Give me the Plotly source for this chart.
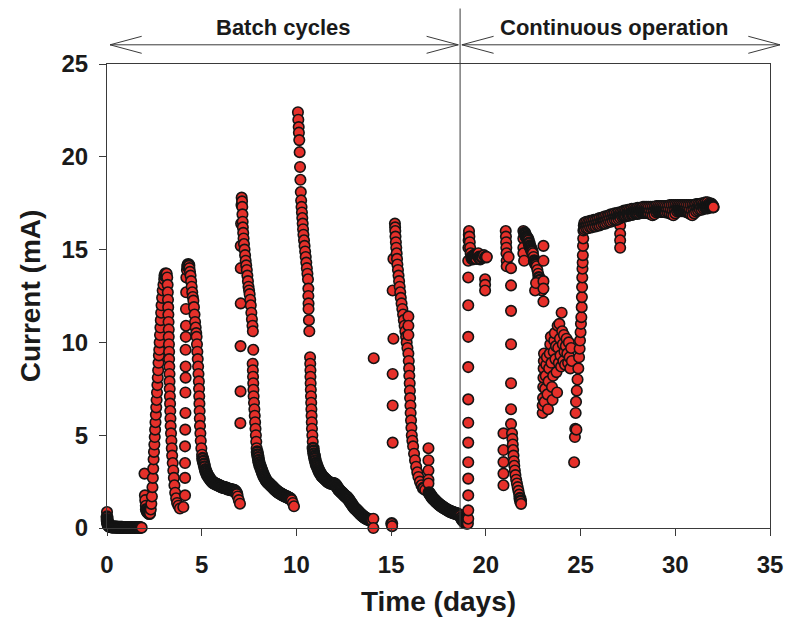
import math
import plotly.graph_objects as go

# ---------------- data: (day, current mA) ----------------
startup = [(0.0, 0.86), (0.0, 0.6), (0.01, 0.45), (0.02, 0.35), (0.03, 0.28), (0.05, 0.2),
           (0.07, 0.15), (0.1, 0.12), (0.13, 0.1), (0.16, 0.08), (0.2, 0.07), (0.25, 0.06),
           (0.3, 0.06), (0.35, 0.05), (0.4, 0.05), (0.45, 0.05), (0.5, 0.05), (0.55, 0.04),
           (0.6, 0.04), (0.65, 0.04), (0.7, 0.04), (0.75, 0.04), (0.8, 0.04), (0.85, 0.03),
           (0.9, 0.03), (0.95, 0.03), (1.0, 0.03), (1.05, 0.03), (1.1, 0.03), (1.15, 0.03),
           (1.2, 0.03), (1.25, 0.03), (1.3, 0.03), (1.35, 0.03), (1.4, 0.03), (1.45, 0.03),
           (1.5, 0.03), (1.55, 0.03), (1.6, 0.03), (1.65, 0.03), (1.7, 0.03), (1.75, 0.03),
           (1.83, 0.02)]

batch1 = [(1.98, 2.93), (2.0, 1.76), (2.02, 1.5), (2.05, 1.2), (2.08, 1.0), (2.12, 0.9),
          (2.16, 0.85), (2.2, 0.8), (2.24, 0.78), (2.27, 0.79), (2.31, 1.0), (2.34, 1.3),
          (2.37, 1.7), (2.4, 2.2), (2.42, 2.7), (2.44, 3.2), (2.46, 3.7), (2.48, 4.1),
          (2.5, 4.5), (2.52, 4.9), (2.54, 5.3), (2.56, 5.7), (2.58, 6.1), (2.6, 6.5),
          (2.62, 6.9), (2.64, 7.3), (2.66, 7.7), (2.68, 8.1), (2.7, 8.5), (2.72, 8.9),
          (2.74, 9.3), (2.76, 9.6), (2.78, 10.0), (2.8, 10.4), (2.82, 10.8), (2.84, 11.2),
          (2.86, 11.6), (2.88, 12.0), (2.91, 12.4), (2.94, 12.8), (2.98, 13.1), (3.02, 13.4),
          (3.06, 13.6), (3.1, 13.7), (3.15, 13.7), (3.18, 13.5), (3.2, 13.1), (3.21, 12.7),
          (3.22, 12.3), (3.23, 11.9), (3.24, 11.5), (3.25, 11.1), (3.26, 10.7), (3.26, 10.3),
          (3.27, 9.9), (3.28, 9.5), (3.28, 9.1), (3.29, 8.7), (3.3, 8.3), (3.3, 7.9),
          (3.31, 7.5), (3.32, 7.1), (3.33, 6.7), (3.34, 6.3), (3.35, 5.9), (3.36, 5.5),
          (3.38, 5.1), (3.4, 4.7), (3.42, 4.3), (3.44, 3.9), (3.47, 3.5), (3.5, 3.1),
          (3.53, 2.7), (3.56, 2.3), (3.6, 1.9), (3.65, 1.6), (3.7, 1.35), (3.77, 1.2),
          (3.85, 1.05)]

batch2 = [(4.03, 1.13), (4.12, 1.76), (4.12, 2.7), (4.12, 3.5), (4.12, 4.4), (4.13, 5.3),
          (4.14, 6.2), (4.14, 7.3), (4.15, 8.1), (4.15, 8.7), (4.15, 9.6), (4.16, 10.3),
          (4.17, 10.9), (4.17, 11.8), (4.18, 12.7), (4.19, 13.5), (4.22, 13.9), (4.26, 14.1),
          (4.29, 14.2), (4.32, 14.15), (4.35, 14.0), (4.38, 13.8), (4.41, 13.6), (4.44, 13.3),
          (4.47, 13.0), (4.5, 12.7), (4.53, 12.45), (4.56, 12.25), (4.59, 11.9), (4.62, 11.5),
          (4.65, 11.1), (4.68, 10.8), (4.71, 10.5), (4.73, 10.3), (4.75, 9.9), (4.77, 9.5),
          (4.79, 9.1), (4.81, 8.7), (4.83, 8.3), (4.85, 7.9), (4.86, 7.5), (4.87, 7.1),
          (4.88, 6.7), (4.89, 6.3), (4.9, 5.9), (4.91, 5.5), (4.93, 5.1), (4.95, 4.7),
          (4.98, 4.3), (5.02, 3.95), (5.05, 3.75), (5.08, 3.6), (5.12, 3.45), (5.15, 3.3),
          (5.19, 3.15), (5.22, 3.05), (5.26, 2.95), (5.3, 2.85), (5.35, 2.78), (5.4, 2.7),
          (5.45, 2.62), (5.5, 2.55), (5.55, 2.5), (5.6, 2.45), (5.65, 2.42), (5.7, 2.4),
          (5.75, 2.37), (5.8, 2.35), (5.85, 2.32), (5.9, 2.3), (5.95, 2.27), (6.0, 2.25),
          (6.05, 2.22), (6.1, 2.2), (6.15, 2.19), (6.2, 2.18), (6.25, 2.16), (6.3, 2.15),
          (6.35, 2.12), (6.4, 2.1), (6.45, 2.09), (6.5, 2.08), (6.55, 2.06), (6.6, 2.05),
          (6.65, 2.04), (6.7, 2.03), (6.75, 2.0), (6.8, 1.95), (6.85, 1.85), (6.9, 1.7),
          (6.96, 1.5), (7.02, 1.31)]

batch3 = [(7.04, 5.65), (7.05, 7.36), (7.05, 9.8), (7.06, 12.1), (7.06, 14.0), (7.06, 15.2),
          (7.08, 16.4), (7.1, 17.4), (7.11, 17.8), (7.13, 17.6), (7.14, 17.3), (7.15, 16.9),
          (7.16, 16.5), (7.17, 16.2), (7.19, 15.9), (7.21, 15.6), (7.23, 15.3), (7.26, 15.0),
          (7.29, 14.7), (7.32, 14.4), (7.35, 14.15), (7.38, 13.9), (7.41, 13.6), (7.44, 13.3),
          (7.47, 13.0), (7.5, 12.8), (7.53, 12.6), (7.56, 12.3), (7.59, 12.0), (7.62, 11.6),
          (7.65, 11.25), (7.68, 10.9), (7.7, 10.6), (7.72, 9.6), (7.69, 8.85), (7.7, 8.5),
          (7.71, 8.15), (7.72, 7.8), (7.73, 7.45), (7.74, 7.1), (7.76, 6.75), (7.78, 6.4),
          (7.8, 6.05), (7.82, 5.7), (7.84, 5.35), (7.86, 5.0), (7.88, 4.65), (7.9, 4.3),
          (7.93, 4.1), (7.95, 3.95), (7.98, 3.8), (8.0, 3.65), (8.03, 3.52), (8.06, 3.4),
          (8.1, 3.3), (8.13, 3.2), (8.17, 3.1), (8.2, 3.0), (8.24, 2.9), (8.28, 2.8),
          (8.32, 2.72), (8.36, 2.65), (8.4, 2.57), (8.45, 2.5), (8.5, 2.45), (8.55, 2.4),
          (8.6, 2.35), (8.65, 2.3), (8.7, 2.25), (8.75, 2.2), (8.8, 2.15), (8.85, 2.1),
          (8.9, 2.05), (8.95, 2.0), (9.0, 1.96), (9.05, 1.92), (9.1, 1.89), (9.15, 1.86),
          (9.2, 1.83), (9.25, 1.8), (9.3, 1.77), (9.35, 1.75), (9.4, 1.72), (9.45, 1.7),
          (9.5, 1.68), (9.55, 1.65), (9.6, 1.62), (9.65, 1.6), (9.7, 1.56), (9.75, 1.5),
          (9.81, 1.35), (9.87, 1.17)]

batch4 = [(10.08, 22.4), (10.1, 22.0), (10.12, 21.6), (10.13, 21.3), (10.15, 20.9),
          (10.17, 20.25), (10.19, 19.45), (10.21, 18.76), (10.23, 18.1), (10.25, 17.65),
          (10.27, 17.3), (10.29, 17.0), (10.31, 16.7), (10.33, 16.4), (10.35, 16.1),
          (10.37, 15.8), (10.4, 15.5), (10.43, 15.2), (10.46, 14.9), (10.49, 14.6),
          (10.52, 14.3), (10.55, 14.0), (10.58, 13.7), (10.61, 13.4), (10.63, 12.9),
          (10.63, 12.5), (10.64, 12.1), (10.64, 11.8), (10.66, 11.2), (10.68, 10.6),
          (10.72, 9.2), (10.73, 8.85), (10.74, 8.5), (10.74, 8.15), (10.75, 7.8),
          (10.76, 7.45), (10.77, 7.1), (10.78, 6.75), (10.79, 6.4), (10.8, 6.05),
          (10.81, 5.7), (10.82, 5.35), (10.84, 5.0), (10.86, 4.65), (10.88, 4.3),
          (10.9, 4.15), (10.92, 4.0), (10.95, 3.87), (10.97, 3.75), (11.0, 3.62),
          (11.03, 3.5), (11.06, 3.4), (11.1, 3.3), (11.14, 3.2), (11.18, 3.1), (11.22, 3.02),
          (11.26, 2.95), (11.3, 2.87), (11.35, 2.8), (11.4, 2.75), (11.45, 2.7), (11.5, 2.65),
          (11.55, 2.6), (11.6, 2.55), (11.65, 2.5), (11.7, 2.47), (11.75, 2.45), (11.8, 2.42),
          (11.85, 2.4), (11.9, 2.4), (11.95, 2.4), (12.0, 2.38), (12.05, 2.35), (12.1, 2.28),
          (12.15, 2.2), (12.2, 2.12), (12.25, 2.05), (12.3, 2.0), (12.35, 1.95), (12.4, 1.9),
          (12.45, 1.85), (12.5, 1.8), (12.55, 1.75), (12.6, 1.71), (12.65, 1.67),
          (12.7, 1.61), (12.75, 1.55), (12.8, 1.47), (12.85, 1.4), (12.9, 1.32),
          (12.95, 1.25), (13.0, 1.17), (13.05, 1.1), (13.1, 1.05), (13.15, 1.0),
          (13.2, 0.95), (13.25, 0.9), (13.3, 0.84), (13.36, 0.78), (13.41, 0.73),
          (13.46, 0.68), (13.51, 0.64), (13.56, 0.6), (13.61, 0.56), (13.66, 0.53),
          (13.71, 0.5), (13.76, 0.48), (13.81, 0.46), (13.86, 0.44), (13.92, 0.42),
          (13.97, 0.41), (14.06, 0.5), (14.06, 0.0), (14.08, 9.15)]

batch5 = [(15.03, 0.24), (15.05, 0.1), (15.08, 4.6), (15.08, 6.6), (15.08, 8.3), (15.12, 10.2),
          (15.08, 12.8), (15.12, 14.5), (15.2, 16.4), (15.21, 16.2), (15.22, 16.0),
          (15.23, 15.7), (15.25, 15.4), (15.27, 15.1), (15.29, 14.8), (15.31, 14.5),
          (15.33, 14.2), (15.36, 13.9), (15.39, 13.6), (15.42, 13.3), (15.45, 13.0),
          (15.48, 12.7), (15.51, 12.4), (15.55, 12.1), (15.59, 11.8), (15.63, 11.5),
          (15.67, 11.2), (15.71, 10.9), (15.75, 10.6), (15.79, 10.3), (15.82, 10.0),
          (15.86, 9.7), (15.91, 9.4), (15.91, 11.4), (15.91, 10.9), (15.91, 10.4),
          (15.93, 9.0), (15.95, 8.6), (15.96, 8.2), (15.98, 7.8), (15.99, 7.4), (16.0, 7.0),
          (16.02, 6.6), (16.03, 6.2), (16.05, 5.8), (16.07, 5.4), (16.09, 5.0), (16.12, 4.7),
          (16.16, 4.4), (16.21, 4.0), (16.26, 3.65), (16.32, 3.3), (16.38, 3.0),
          (16.44, 2.75), (16.52, 2.5), (16.6, 2.3), (16.7, 2.15), (16.8, 2.05),
          (16.97, 4.3), (16.97, 3.65), (16.97, 3.1), (16.97, 2.6), (16.97, 2.4),
          (17.0, 1.9), (17.05, 1.82), (17.1, 1.75), (17.15, 1.67), (17.2, 1.6), (17.25, 1.55),
          (17.3, 1.5), (17.35, 1.45), (17.4, 1.4), (17.45, 1.35), (17.5, 1.3), (17.55, 1.26),
          (17.6, 1.22), (17.65, 1.18), (17.7, 1.15), (17.75, 1.11), (17.8, 1.08),
          (17.86, 1.04), (17.93, 1.0), (17.99, 0.96), (18.05, 0.93), (18.1, 0.9),
          (18.15, 0.88), (18.2, 0.86), (18.25, 0.84), (18.3, 0.82), (18.35, 0.8),
          (18.4, 0.79), (18.46, 0.78), (18.5, 0.75), (18.55, 0.73), (18.6, 0.7),
          (18.64, 0.68)]

cont1 = [(18.7, 0.55), (18.75, 0.45), (18.8, 0.4), (18.85, 0.35), (18.9, 0.3), (18.95, 0.28),
         (19.0, 0.26), (19.05, 0.24), (19.07, 0.5),
         (19.07, 0.95), (19.07, 1.76), (19.07, 2.66), (19.07, 3.54), (19.07, 4.6),
         (19.07, 5.67), (19.07, 6.93), (19.07, 8.67), (19.07, 10.3), (19.07, 12.0),
         (19.07, 13.5), (19.07, 14.4), (19.08, 15.1), (19.09, 15.5), (19.1, 15.8),
         (19.11, 16.0), (19.13, 15.7), (19.15, 15.4), (19.17, 15.1), (19.2, 14.8),
         (19.25, 14.6), (19.3, 14.5), (19.35, 14.6), (19.4, 14.7), (19.45, 14.6),
         (19.5, 14.5), (19.55, 14.7), (19.6, 14.8), (19.65, 14.6), (19.7, 14.5),
         (19.8, 14.6), (19.9, 14.7), (19.96, 13.4), (19.96, 13.1), (19.96, 12.8),
         (20.0, 14.6), (20.05, 14.6)]

cont2 = [(20.93, 5.1), (20.93, 4.2), (20.93, 3.55), (20.93, 2.93), (20.93, 2.3),
         (21.05, 16.0), (21.06, 15.7), (21.07, 15.4), (21.08, 15.1), (21.09, 14.8),
         (21.1, 14.4), (21.1, 14.1), (21.2, 14.6), (21.33, 14.0), (21.33, 13.07),
         (21.33, 11.7), (21.33, 9.9), (21.33, 7.8), (21.33, 6.4), (21.33, 5.6),
         (21.38, 5.1), (21.4, 4.8), (21.42, 4.5), (21.44, 4.2), (21.46, 3.9), (21.48, 3.6),
         (21.5, 3.35), (21.53, 3.1), (21.56, 2.85), (21.6, 2.6), (21.64, 2.4), (21.68, 2.2),
         (21.72, 2.0), (21.76, 1.8), (21.8, 1.6), (21.83, 1.45), (21.86, 1.3)]

cont3 = [(21.98, 16.0), (21.98, 15.6), (21.98, 15.1), (21.98, 14.8), (22.02, 14.4),
         (22.05, 15.9), (22.08, 15.8), (22.12, 15.7), (22.16, 15.65), (22.2, 15.6),
         (22.24, 15.5), (22.28, 15.35), (22.32, 15.2), (22.36, 15.1), (22.4, 15.0),
         (22.44, 14.9), (22.48, 14.8), (22.52, 14.6), (22.56, 14.4), (22.6, 14.3),
         (22.64, 14.2), (22.68, 14.1), (22.72, 13.9), (22.76, 13.7), (22.8, 13.5),
         (22.84, 13.35), (22.88, 13.2), (22.92, 13.0), (22.95, 12.8), (22.6, 12.8),
         (22.65, 13.2), (23.04, 15.2), (23.04, 14.4), (23.04, 13.3), (23.04, 12.9),
         (23.04, 12.2)]

cont4 = [(23.0, 6.2), (23.0, 6.6), (23.02, 7.0), (23.03, 7.6), (23.04, 8.1), (23.05, 8.6),
         (23.06, 9.0), (23.07, 9.4), (23.1, 6.8), (23.13, 7.5), (23.16, 8.2), (23.19, 8.8),
         (23.22, 9.2), (23.25, 7.2), (23.28, 6.4), (23.31, 7.9), (23.34, 8.6), (23.37, 9.4),
         (23.4, 9.9), (23.43, 10.3), (23.46, 8.9), (23.49, 7.6), (23.52, 6.9), (23.55, 8.2),
         (23.58, 9.5), (23.61, 10.1), (23.64, 10.5), (23.67, 9.1), (23.7, 9.8), (23.73, 8.4),
         (23.76, 7.3), (23.79, 10.9), (23.82, 9.7), (23.85, 8.9), (23.88, 11.0),
         (23.91, 10.2), (23.94, 9.3), (23.97, 8.7), (24.0, 11.6), (24.03, 10.6),
         (24.06, 9.9), (24.09, 9.0), (24.12, 10.4), (24.15, 9.5), (24.18, 8.8),
         (24.22, 9.8), (24.26, 10.2), (24.3, 9.4), (24.34, 8.9), (24.38, 10.0),
         (24.42, 9.2), (24.46, 8.6), (24.5, 9.7), (24.54, 9.0)]

cont5 = [(24.66, 3.54), (24.7, 4.9), (24.72, 5.35), (24.74, 6.2), (24.76, 6.8), (24.78, 5.3),
         (24.8, 7.4), (24.84, 8.0), (24.88, 8.6), (24.92, 9.2), (24.95, 9.66), (24.97, 10.1),
         (25.0, 10.55), (25.02, 11.0), (25.04, 11.36), (25.06, 11.9), (25.07, 12.44),
         (25.08, 12.98), (25.09, 13.5), (25.1, 13.97), (25.11, 14.3), (25.12, 14.7),
         (25.13, 15.2), (25.14, 15.6), (25.15, 16.03), (25.17, 16.3)]

dip27 = [(27.09, 16.3), (27.09, 15.85), (27.09, 15.5), (27.09, 15.1)]

plateau = [(25.2, 16.45), (25.2, 16.1), (25.3, 16.5), (25.3, 16.15), (25.4, 16.5), (25.4, 16.15),
           (25.5, 16.55), (25.5, 16.2), (25.6, 16.55), (25.6, 16.2), (25.7, 16.6), (25.7, 16.25),
           (25.8, 16.6), (25.8, 16.25), (25.9, 16.65), (25.9, 16.3), (26.0, 16.7), (26.0, 16.3),
           (26.1, 16.7), (26.1, 16.35), (26.2, 16.75), (26.2, 16.4), (26.3, 16.8), (26.3, 16.4),
           (26.4, 16.8), (26.4, 16.45), (26.5, 16.85), (26.5, 16.5), (26.6, 16.9), (26.6, 16.5),
           (26.7, 16.9), (26.7, 16.55), (26.8, 16.95), (26.8, 16.6), (26.9, 16.95), (26.9, 16.6),
           (27.0, 17.0), (27.0, 16.65), (27.1, 17.0), (27.1, 16.7), (27.2, 17.05), (27.2, 16.75),
           (27.3, 17.1), (27.3, 16.8), (27.4, 17.1), (27.4, 16.8), (27.5, 17.15), (27.5, 16.85),
           (27.6, 17.15), (27.6, 16.85), (27.7, 17.2), (27.7, 16.9), (27.8, 17.2), (27.8, 16.9),
           (27.9, 17.2), (27.9, 16.95), (28.0, 17.25), (28.0, 16.95), (28.1, 17.25), (28.1, 16.95),
           (28.2, 17.25), (28.2, 17.0), (28.3, 17.3), (28.3, 17.0), (28.4, 17.3), (28.4, 17.0),
           (28.5, 17.3), (28.5, 17.0), (28.6, 17.3), (28.6, 16.95), (28.7, 17.3), (28.7, 16.9),
           (28.8, 17.3), (28.8, 16.85), (28.9, 17.3), (28.9, 16.9), (29.0, 17.35), (29.0, 17.0),
           (29.1, 17.35), (29.1, 17.05), (29.2, 17.35), (29.2, 17.05), (29.3, 17.35), (29.3, 17.05),
           (29.4, 17.35), (29.4, 17.05), (29.5, 17.35), (29.5, 17.0), (29.6, 17.35), (29.6, 17.0),
           (29.7, 17.4), (29.7, 16.95), (29.8, 17.4), (29.8, 16.9), (29.9, 17.4), (29.9, 16.85),
           (30.0, 17.4), (30.0, 16.95), (30.1, 17.4), (30.1, 17.05), (30.2, 17.4), (30.2, 17.1),
           (30.3, 17.4), (30.3, 17.1), (30.4, 17.4), (30.4, 17.1), (30.5, 17.4), (30.5, 17.1),
           (30.6, 17.4), (30.6, 17.05), (30.7, 17.4), (30.7, 17.0), (30.8, 17.4), (30.8, 16.9),
           (30.9, 17.4), (30.9, 16.85), (31.0, 17.4), (31.0, 16.95), (31.1, 17.45), (31.1, 17.05),
           (31.2, 17.45), (31.2, 17.1), (31.3, 17.45), (31.3, 17.15), (31.4, 17.5), (31.4, 17.15),
           (31.5, 17.5), (31.5, 17.2), (31.6, 17.55), (31.6, 17.25), (31.7, 17.55), (31.7, 17.25),
           (31.8, 17.5), (31.8, 17.3), (31.9, 17.45), (31.9, 17.3), (32.0, 17.3)]

plateau_mid = [(25.25, 16.3), (25.35, 16.33), (25.45, 16.35), (25.55, 16.38), (25.65, 16.4),
               (25.75, 16.43), (25.85, 16.45), (25.95, 16.48), (26.05, 16.5), (26.15, 16.55),
               (26.25, 16.58), (26.35, 16.6), (26.45, 16.65), (26.55, 16.7), (26.65, 16.72),
               (26.75, 16.75), (26.85, 16.78), (26.95, 16.8), (27.05, 16.85), (27.15, 16.88),
               (27.25, 16.92), (27.35, 16.95), (27.45, 16.98), (27.55, 17.0), (27.65, 17.02),
               (27.75, 17.05), (27.85, 17.07), (27.95, 17.1), (28.05, 17.1), (28.15, 17.12),
               (28.25, 17.15), (28.35, 17.15), (28.45, 17.15), (28.55, 17.15), (28.65, 17.12),
               (28.75, 17.1), (28.85, 17.1), (28.95, 17.15), (29.05, 17.2), (29.15, 17.2),
               (29.25, 17.2), (29.35, 17.2), (29.45, 17.2), (29.55, 17.18), (29.65, 17.18),
               (29.75, 17.15), (29.85, 17.12), (29.95, 17.15), (30.05, 17.2), (30.15, 17.25),
               (30.25, 17.25), (30.35, 17.25), (30.45, 17.25), (30.55, 17.22), (30.65, 17.2),
               (30.75, 17.15), (30.85, 17.12), (30.95, 17.18), (31.05, 17.25), (31.15, 17.28),
               (31.25, 17.3), (31.35, 17.32), (31.45, 17.35), (31.55, 17.38), (31.65, 17.4),
               (31.75, 17.4), (31.85, 17.4), (31.95, 17.38)]

final_point = [(32.01, 17.29)]

x_ticks = [0, 5, 10, 15, 20, 25, 30, 35]
y_ticks = [0, 5, 10, 15, 20, 25]
x_range = [0, 35]
y_range = [0, 25]
switch_day = 18.64          # start of continuous operation
phase_labels = ["Batch cycles", "Continuous operation"]

# ---------------- assemble (time order = drawing order) ----------------
steady = sorted(plateau + plateau_mid, key=lambda p: p[0])
phases = [startup, batch1, batch2, batch3, batch4, batch5,
          cont1, cont2, cont3, cont4, cont5, dip27, steady, final_point]
days, current = [], []
for ph in phases:
    for d, c in ph:
        days.append(d)
        current.append(c)

W, H = 786, 627
L, R, T, B = 107, 770, 63.5, 527.7   # plot area in window pixels
sx = (R - L) / (x_range[1] - x_range[0])   # px per day
sy = (B - T) / (y_range[1] - y_range[0])   # px per mA

# style: where the logger sampled very densely (next point < 3 px away) the
# overlapping outlines form a dark band in the original, so thicken them there
outline = []
for k in range(len(days)):
    if k + 1 < len(days):
        dist = math.hypot((days[k + 1] - days[k]) * sx, (current[k + 1] - current[k]) * sy)
    else:
        dist = 99
    outline.append(2.6 if dist < 3 else 1.6)


def px_x(px):
    return (px - L) / (R - L)


def px_y(py):
    return (B - py) / (B - T)


FONT = "Liberation Sans, Arial, sans-serif"
AX = "#3a3a3a"

fig = go.Figure()
fig.add_trace(go.Scatter(
    x=days, y=current, mode="markers", cliponaxis=False,
    marker=dict(size=10.5, color="#E6302A", line=dict(color="#141414", width=outline)),
    hoverinfo="skip", showlegend=False))

axis_common = dict(showline=True, linecolor=AX, linewidth=1, mirror=True,
                   ticks="outside", ticklen=7, tickwidth=1, tickcolor=AX,
                   showgrid=False, zeroline=False,
                   tickfont=dict(family=FONT, size=24, color="#1a1a1a", weight=700))

fig.update_xaxes(range=x_range, tickvals=x_ticks, ticklabelstandoff=8,
                 title=dict(text="Time (days)", standoff=14,
                            font=dict(family=FONT, size=28, color="#1a1a1a", weight=700)),
                 **axis_common)
fig.update_yaxes(range=y_range, tickvals=y_ticks, ticklabelstandoff=6,
                 title=dict(text="Current (mA)", standoff=12,
                            font=dict(family=FONT, size=28, color="#1a1a1a", weight=700)),
                 **axis_common)

shapes = []
# divider between phases (extends above the plot)
shapes.append(dict(type="line", xref="x", yref="paper", x0=switch_day, x1=switch_day,
                   y0=0, y1=px_y(8), line=dict(color=AX, width=1)))

arrow_y = px_y(44.3)
arm_dx = 31.7 / (R - L)
arm_dy = 8.5 / (B - T)
sw = switch_day / (x_range[1] - x_range[0])
left_tip, right_tip = px_x(110), px_x(780)
gap = 1.8 / (R - L)
for a, b in [(left_tip, sw - gap), (sw + gap, right_tip)]:
    shapes.append(dict(type="line", xref="paper", yref="paper", x0=a, x1=b,
                       y0=arrow_y, y1=arrow_y, line=dict(color=AX, width=1)))
    shapes.append(dict(type="path", xref="paper", yref="paper",
                       path=f"M {a + arm_dx},{arrow_y + arm_dy} L {a},{arrow_y} L {a + arm_dx},{arrow_y - arm_dy}",
                       line=dict(color=AX, width=1)))
    shapes.append(dict(type="path", xref="paper", yref="paper",
                       path=f"M {b - arm_dx},{arrow_y + arm_dy} L {b},{arrow_y} L {b - arm_dx},{arrow_y - arm_dy}",
                       line=dict(color=AX, width=1)))

annotations = [
    dict(text=phase_labels[0], xref="paper", yref="paper", x=px_x(283.5), y=px_y(27),
         showarrow=False, xanchor="center", yanchor="middle",
         font=dict(family=FONT, size=22, color="#1a1a1a", weight=700)),
    dict(text=phase_labels[1], xref="paper", yref="paper", x=px_x(614), y=px_y(27),
         showarrow=False, xanchor="center", yanchor="middle",
         font=dict(family=FONT, size=22, color="#1a1a1a", weight=700)),
]

fig.update_layout(width=W, height=H, autosize=False,
                  margin=dict(l=L, r=W - R, t=T, b=H - B, autoexpand=False),
                  paper_bgcolor="white", plot_bgcolor="white",
                  shapes=shapes, annotations=annotations)

# remove the default 8 px page margin so the figure fills the window exactly
fig.write_html("out.html", config={"displayModeBar": False},
               post_script="document.body.style.margin='0';"
                           "document.documentElement.style.overflow='hidden';")
